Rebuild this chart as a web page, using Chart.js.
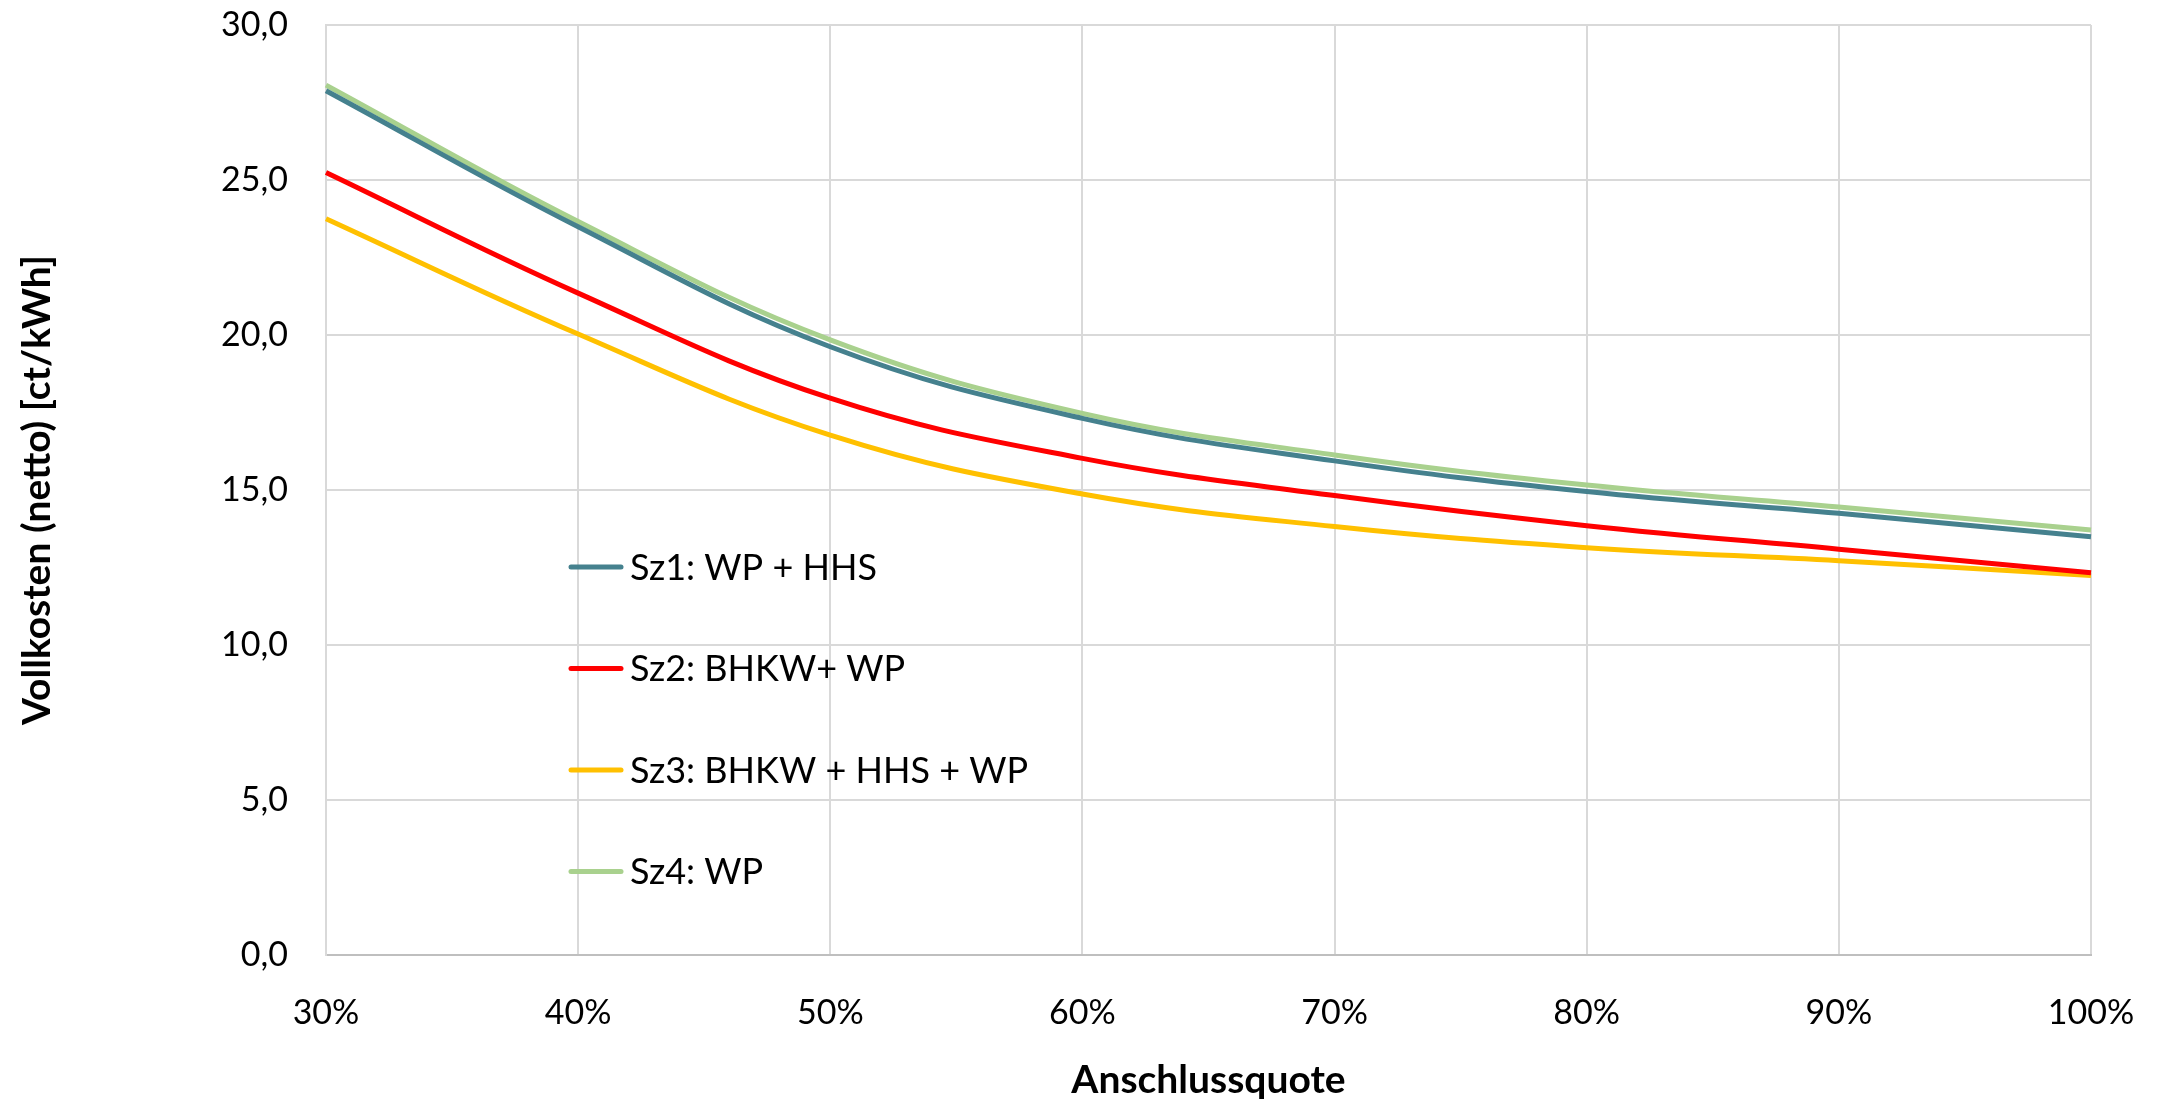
<!DOCTYPE html>
<html>
<head>
<meta charset="utf-8">
<script src="https://cdn.jsdelivr.net/npm/chart.js@4/dist/chart.umd.min.js"></script>
<style>
  html, body { margin: 0; padding: 0; background: #fff; }
  #wrap { width: 2164px; height: 1110px; }
</style>
</head>
<body>
<div id="wrap"><canvas id="myChart" width="2164" height="1110"></canvas></div>
<script>
// Anschlussquote (x axis)
const quoteLabels = ['30%', '40%', '50%', '60%', '70%', '80%', '90%', '100%'];

// Vollkosten netto in ct/kWh
const sz1 = [27.88, 23.49, 19.62, 17.31, 15.94, 14.95, 14.25, 13.49];
const sz2 = [25.24, 21.35, 17.96, 16.02, 14.82, 13.85, 13.09, 12.33];
const sz3 = [23.75, 20.03, 16.77, 14.87, 13.82, 13.14, 12.72, 12.24];
const sz4 = [28.06, 23.66, 19.84, 17.47, 16.13, 15.16, 14.45, 13.71];

const seriesNames = ['Sz1: WP + HHS', 'Sz2: BHKW+ WP', 'Sz3: BHKW + HHS + WP', 'Sz4: WP'];
const seriesColors = ['#45818E', '#FF0000', '#FFC000', '#A9D18E'];

const fontFamily = 'Lato, "Open Sans", sans-serif';

// legend sits inside the plot, like in the excel original
const innerLegend = {
  id: 'innerLegend',
  afterDraw(chart) {
    const { ctx, chartArea } = chart;
    const x0 = chartArea.left + 245;
    const y0 = chartArea.top + 542;
    const step = 101.5;
    ctx.save();
    ctx.font = '36px ' + fontFamily;
    ctx.textBaseline = 'middle';
    ctx.fillStyle = '#000';
    chart.data.datasets.forEach((ds, i) => {
      const y = y0 + i * step;
      ctx.strokeStyle = ds.borderColor;
      ctx.lineWidth = 5;
      ctx.lineCap = 'round';
      ctx.beginPath();
      ctx.moveTo(x0, y);
      ctx.lineTo(x0 + 50, y);
      ctx.stroke();
      ctx.fillText(ds.label, x0 + 59, y + 1);
    });
    ctx.restore();
  }
};

const makeSet = (i, data) => ({
  label: seriesNames[i],
  data: data,
  borderColor: seriesColors[i],
  backgroundColor: seriesColors[i],
  borderWidth: 5,
  pointRadius: 0,
  tension: 0.4,
  fill: false
});

const ctx = document.getElementById('myChart').getContext('2d');
const chart = new Chart(ctx, {
  type: 'line',
  data: {
    labels: quoteLabels,
    datasets: [makeSet(0, sz1), makeSet(1, sz2), makeSet(2, sz3), makeSet(3, sz4)]
  },
  options: {
    responsive: false,
    animation: false,
    layout: {
      padding: { left: 0, right: 73, top: 25, bottom: 0 }
    },
    plugins: {
      legend: { display: false },
      tooltip: { enabled: false }
    },
    scales: {
      x: {
        offset: false,
        grid: { color: '#D9D9D9', lineWidth: 2, drawTicks: false },
        border: { color: '#BFBFBF', width: 2 },
        ticks: {
          color: '#000',
          padding: 38,
          maxRotation: 0,
          font: { family: fontFamily, size: 34 }
        },
        title: {
          display: true,
          text: 'Anschlussquote',
          color: '#000',
          padding: { top: 0, bottom: 6 },
          font: { family: fontFamily, size: 39, weight: 'bold' }
        },
        afterFit(scale) {
          scale.height = 155;
          scale.paddingLeft = 0;
          scale.paddingRight = 0;
        }
      },
      y: {
        min: 0,
        max: 30,
        grid: { color: '#D9D9D9', lineWidth: 2, drawTicks: false },
        border: { color: '#D9D9D9', width: 2 },
        ticks: {
          stepSize: 5,
          color: '#000',
          padding: 38,
          font: { family: fontFamily, size: 34 },
          callback: (v) => v.toFixed(1).replace('.', ',')
        },
        title: {
          display: true,
          text: 'Vollkosten (netto) [ct/kWh]',
          color: '#000',
          padding: { top: 14, bottom: 0 },
          font: { family: fontFamily, size: 39, weight: 'bold' }
        },
        afterFit(scale) {
          scale.width = 326;
          scale.paddingTop = 0;
          scale.paddingBottom = 0;
        }
      }
    }
  },
  plugins: [innerLegend]
});
</script>
</body>
</html>
